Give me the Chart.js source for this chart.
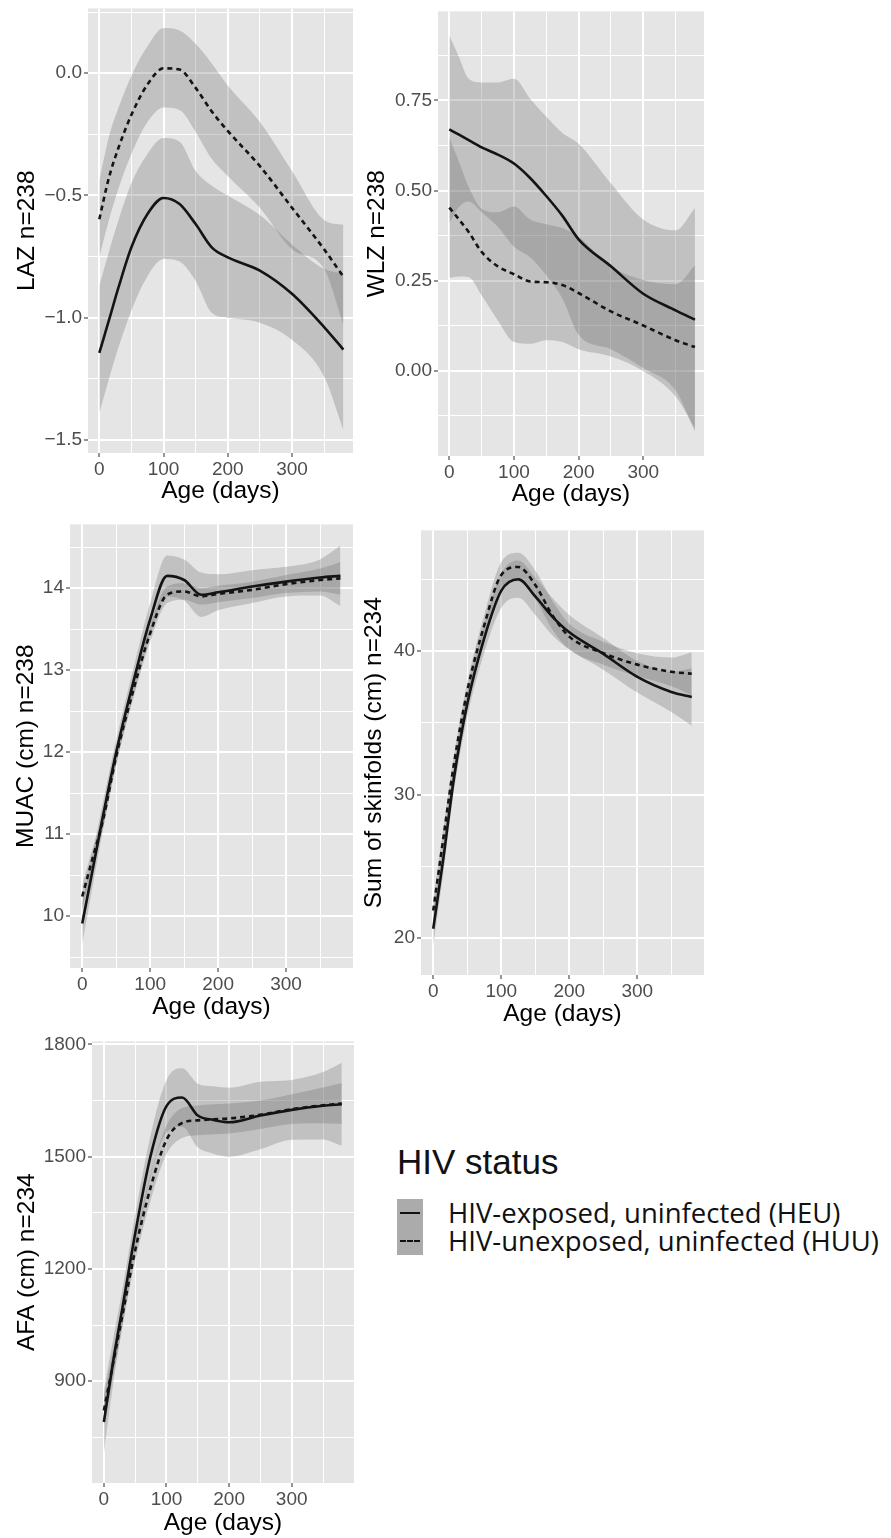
<!DOCTYPE html>
<html>
<head>
<meta charset="utf-8">
<script src="https://cdn.jsdelivr.net/npm/chart.js@4.4.1/dist/chart.umd.min.js"></script>
<style>
  body { margin: 0; background: #fff; width: 891px; height: 1538px; position: relative; overflow: hidden; }
  canvas { position: absolute; }
  #legendTitle { position: absolute; left: 397px; top: 1142px; font: 35px/40px "Liberation Sans", Arial, sans-serif; color: #111; }
  .item { position: absolute; left: 397px; height: 28px; display: flex; align-items: center; font: 27.5px/28px "Open Sans", sans-serif; color: #111; white-space: nowrap; }
  .key { width: 26px; height: 28px; background: #ababab; margin-right: 25px; position: relative; flex: none; }
  .key i { position: absolute; left: 3px; right: 3px; top: 13px; height: 0; border-top: 2.5px solid #111; }
  .key i.dash { border-top-style: dashed; }
</style>
</head>
<body>
<canvas id="laz"></canvas>
<canvas id="wlz"></canvas>
<canvas id="muac"></canvas>
<canvas id="skin"></canvas>
<canvas id="afa"></canvas>
<div id="legendTitle">HIV status</div>
<div id="legendItems"></div>

<script>
const ages = [0, 15, 30, 50, 75, 100, 125, 150, 175, 200, 250, 300, 350, 380];
const ageTicks = [0, 100, 200, 300];
const statusLabels = ['HIV-exposed, uninfected (HEU)', 'HIV-unexposed, uninfected (HUU)'];

// LAZ
const lazHeu   = [-1.144, -1.01, -0.875, -0.712, -0.576, -0.51, -0.535, -0.617, -0.712, -0.753, -0.807, -0.902, -1.038, -1.13];
const lazHeuLo = [-1.39, -1.25, -1.12, -0.97, -0.83, -0.76, -0.77, -0.85, -0.98, -1.0, -1.02, -1.09, -1.24, -1.46];
const lazHeuHi = [-0.87, -0.73, -0.6, -0.45, -0.33, -0.265, -0.28, -0.40, -0.46, -0.5, -0.58, -0.7, -0.8, -0.82];
const lazHuu   = [-0.597, -0.427, -0.304, -0.17, -0.046, 0.02, 0.015, -0.06, -0.156, -0.236, -0.38, -0.55, -0.72, -0.832];
const lazHuuLo = [-0.753, -0.6, -0.47, -0.33, -0.2, -0.14, -0.15, -0.24, -0.35, -0.42, -0.55, -0.72, -0.8, -1.03];
const lazHuuHi = [-0.44, -0.26, -0.14, -0.01, 0.11, 0.185, 0.175, 0.12, 0.04, -0.05, -0.2, -0.4, -0.6, -0.62];

// WLZ
const wlzHeu   = [0.67, 0.655, 0.64, 0.62, 0.6, 0.575, 0.535, 0.485, 0.43, 0.365, 0.29, 0.214, 0.168, 0.142];
const wlzHeuLo = [0.41, 0.455, 0.47, 0.44, 0.4, 0.345, 0.315, 0.265, 0.2, 0.1, 0.06, 0.008, -0.054, -0.168];
const wlzHeuHi = [0.93, 0.87, 0.81, 0.8, 0.8, 0.81, 0.755, 0.705, 0.66, 0.63, 0.52, 0.42, 0.39, 0.452];
const wlzHuu   = [0.453, 0.42, 0.385, 0.33, 0.29, 0.268, 0.248, 0.246, 0.238, 0.216, 0.165, 0.126, 0.085, 0.066];
const wlzHuuLo = [0.258, 0.262, 0.26, 0.21, 0.14, 0.08, 0.075, 0.085, 0.08, 0.06, 0.04, 0.0, -0.07, -0.16];
const wlzHuuHi = [0.648, 0.58, 0.51, 0.45, 0.44, 0.456, 0.42, 0.407, 0.396, 0.372, 0.29, 0.252, 0.24, 0.292];

// MUAC
const muacHeu   = [9.91, 10.55, 11.2, 12.0, 12.85, 13.62, 14.15, 14.1, 13.92, 13.95, 14.02, 14.08, 14.13, 14.15];
const muacHeuLo = [9.66, 10.35, 11.03, 11.85, 12.69, 13.42, 13.9, 13.85, 13.65, 13.73, 13.82, 13.9, 13.91, 13.78];
const muacHeuHi = [10.16, 10.75, 11.37, 12.15, 13.01, 13.82, 14.4, 14.35, 14.19, 14.17, 14.22, 14.26, 14.35, 14.52];
const muacHuu   = [10.24, 10.7, 11.15, 11.95, 12.75, 13.45, 13.92, 13.96, 13.9, 13.93, 13.98, 14.05, 14.1, 14.12];
const muacHuuLo = [10.09, 10.58, 11.05, 11.85, 12.65, 13.35, 13.82, 13.86, 13.8, 13.83, 13.88, 13.94, 13.96, 13.92];
const muacHuuHi = [10.39, 10.82, 11.25, 12.05, 12.85, 13.55, 14.02, 14.06, 14.0, 14.03, 14.08, 14.16, 14.24, 14.32];

// Sum of skinfolds
const skinHeu   = [20.65, 25.6, 31.0, 36.3, 40.9, 44.2, 45.0, 43.8, 42.4, 41.3, 39.8, 38.2, 37.15, 36.8];
const skinHeuLo = [19.45, 24.6, 30.1, 35.4, 39.9, 43.0, 43.7, 42.5, 41.1, 40.1, 38.7, 37.1, 35.75, 34.8];
const skinHeuHi = [21.85, 26.6, 31.9, 37.2, 41.9, 45.4, 46.3, 45.1, 43.7, 42.5, 40.9, 39.3, 38.55, 38.8];
const skinHuu   = [21.92, 27.0, 32.0, 37.2, 41.8, 45.3, 45.85, 44.6, 42.5, 41.0, 39.85, 39.05, 38.55, 38.42];
const skinHuuLo = [21.12, 26.3, 31.4, 36.6, 41.1, 44.4, 44.85, 43.6, 41.5, 40.1, 39.05, 38.25, 37.55, 36.92];
const skinHuuHi = [22.72, 27.7, 32.6, 37.8, 42.5, 46.2, 46.85, 45.6, 43.5, 41.9, 40.65, 39.85, 39.55, 39.92];

// AFA
const afaHeu   = [791, 955, 1100, 1295, 1505, 1635, 1658, 1610, 1598, 1592, 1610, 1625, 1636, 1640];
const afaHeuLo = [706, 895, 1050, 1245, 1450, 1565, 1580, 1525, 1508, 1500, 1520, 1545, 1546, 1529];
const afaHeuHi = [876, 1015, 1150, 1345, 1560, 1705, 1736, 1695, 1688, 1684, 1700, 1705, 1726, 1751];
const afaHuu   = [822, 950, 1080, 1250, 1420, 1545, 1590, 1597, 1600, 1602, 1612, 1627, 1637, 1642];
const afaHuuLo = [782, 915, 1050, 1220, 1385, 1507, 1550, 1557, 1560, 1562, 1574, 1587, 1589, 1587];
const afaHuuHi = [862, 985, 1110, 1280, 1455, 1583, 1630, 1637, 1640, 1642, 1650, 1667, 1685, 1697];

Chart.defaults.font.family = '"Liberation Sans", Arial, Helvetica, sans-serif';

const bandFill = 'rgba(110,110,110,0.30)';
const clear = 'rgba(0,0,0,0)';
const pts = ys => ys.map((y, i) => ({ x: ages[i], y: y }));
const isMajor = (v, m) => Math.abs(v / m - Math.round(v / m)) < 1e-6;

// ticks at every multiple of step strictly inside the axis range
function stepTicks(min, max, step) {
  const out = [];
  for (let k = Math.ceil(min / step - 1e-9); k * step < max - 1e-9; k++) {
    out.push({ value: +(k * step).toFixed(6) });
  }
  return out;
}

const panelBg = {
  id: 'panelBg',
  beforeDraw(chart) {
    const { ctx, chartArea: a } = chart;
    ctx.save();
    ctx.fillStyle = '#e5e5e5';
    ctx.fillRect(a.left, a.top, a.width, a.height);
    ctx.restore();
  }
};

function gridOpts(major) {
  return {
    color: '#ffffff',
    lineWidth: c => (c.tick && isMajor(c.tick.value, major)) ? 2 : 1,
    tickColor: c => (c.tick && isMajor(c.tick.value, major)) ? '#4d4d4d' : clear,
    tickLength: 4,
    tickWidth: 1.2
  };
}

function makePanel(id, box, xr, yr, yStep, yMajor, fmt, title, titlePad, s) {
  const cv = document.getElementById(id);
  cv.width = box.r - box.l + 96;
  cv.height = box.b - box.t + 74;
  cv.style.left = (box.l - 90) + 'px';
  cv.style.top = (box.t - 12) + 'px';

  const band = (lo, hi) => [
    { data: pts(lo), borderColor: clear, borderWidth: 0, pointRadius: 0, fill: false },
    { data: pts(hi), borderColor: clear, borderWidth: 0, pointRadius: 0, fill: '-1', backgroundColor: bandFill }
  ];

  new Chart(cv, {
    type: 'line',
    data: {
      datasets: [
        { data: pts(s[0]), borderColor: '#141414', borderWidth: 2.6, pointRadius: 0, fill: false },
        { data: pts(s[3]), borderColor: '#141414', borderWidth: 2.6, borderDash: [5, 4], pointRadius: 0, fill: false },
        ...band(s[1], s[2]),
        ...band(s[4], s[5])
      ]
    },
    options: {
      responsive: false,
      animation: false,
      devicePixelRatio: 1,
      cubicInterpolationMode: 'monotone',
      layout: { padding: { top: 12, right: 6, left: 0, bottom: 0 } },
      plugins: { legend: { display: false }, tooltip: { enabled: false } },
      scales: {
        x: {
          type: 'linear', min: xr[0], max: xr[1],
          grid: gridOpts(100),
          border: { display: false },
          afterBuildTicks: sc => { sc.ticks = stepTicks(xr[0], xr[1], 50); },
          ticks: {
            autoSkip: false, maxRotation: 0, padding: 1,
            color: '#4d4d4d', font: { size: 19 },
            callback: v => ageTicks.includes(v) ? String(v) : ''
          },
          title: { display: true, text: 'Age (days)', color: '#000', font: { size: 24.5 }, padding: { top: 0, bottom: box.xPad } },
          afterFit: sc => { sc.height = 62; }
        },
        y: {
          type: 'linear', min: yr[0], max: yr[1],
          grid: gridOpts(yMajor),
          border: { display: false },
          afterBuildTicks: sc => { sc.ticks = stepTicks(yr[0], yr[1], yStep); },
          ticks: {
            autoSkip: false, padding: 2,
            color: '#4d4d4d', font: { size: 19 },
            callback: v => isMajor(v, yMajor) ? fmt(v) : ''
          },
          title: { display: true, text: title, color: '#000', font: { size: 24.5 }, padding: { top: titlePad, bottom: 0 } },
          afterFit: sc => { sc.width = 90; }
        }
      }
    },
    plugins: [panelBg]
  });
}

const minus = v => (v < 0 ? '\u2212' : '') + Math.abs(v);
const fmt1 = v => (v < 0 ? '\u2212' : '') + Math.abs(v).toFixed(1);
const fmt2 = v => (v < 0 ? '\u2212' : '') + Math.abs(v).toFixed(2);

makePanel('laz',  { l: 88,  r: 353, t: 7,    b: 453,  xPad: 9 }, [-17.6, 395], [-1.553, 0.265], 0.25, 0.5, fmt1,
  'LAZ n=238', 15, [lazHeu, lazHeuLo, lazHeuHi, lazHuu, lazHuuLo, lazHuuHi]);
makePanel('wlz',  { l: 438, r: 704, t: 10,   b: 456,  xPad: 9 }, [-17.5, 394], [-0.236, 0.997], 0.125, 0.25, fmt2,
  'WLZ n=238', 15, [wlzHeu, wlzHeuLo, wlzHeuHi, wlzHuu, wlzHuuLo, wlzHuuHi]);
makePanel('muac', { l: 70,  r: 353, t: 523,  b: 968,  xPad: 8 }, [-18, 398.5], [9.368, 14.778], 0.5, 1, minus,
  'MUAC (cm) n=238', 32, [muacHeu, muacHeuLo, muacHeuHi, muacHuu, muacHuuLo, muacHuuHi]);
makePanel('skin', { l: 421, r: 704, t: 529,  b: 975,  xPad: 8 }, [-18, 398], [17.43, 48.4], 5, 10, minus,
  'Sum of skinfolds (cm) n=234', 29, [skinHeu, skinHeuLo, skinHeuHi, skinHuu, skinHuuLo, skinHuuHi]);
makePanel('afa',  { l: 92,  r: 354, t: 1040, b: 1483, xPad: 7 }, [-19, 399.5], [628, 1808], 150, 300, minus,
  'AFA (cm) n=234', 11, [afaHeu, afaHeuLo, afaHeuHi, afaHuu, afaHuuLo, afaHuuHi]);

// legend (real text)
const holder = document.getElementById('legendItems');
statusLabels.forEach((lab, i) => {
  const row = document.createElement('div');
  row.className = 'item';
  row.style.top = (1199 + i * 28) + 'px';
  row.innerHTML = '<span class="key"><i class="' + (i ? 'dash' : '') + '"></i></span>' + lab;
  holder.appendChild(row);
});
</script>
</body>
</html>
